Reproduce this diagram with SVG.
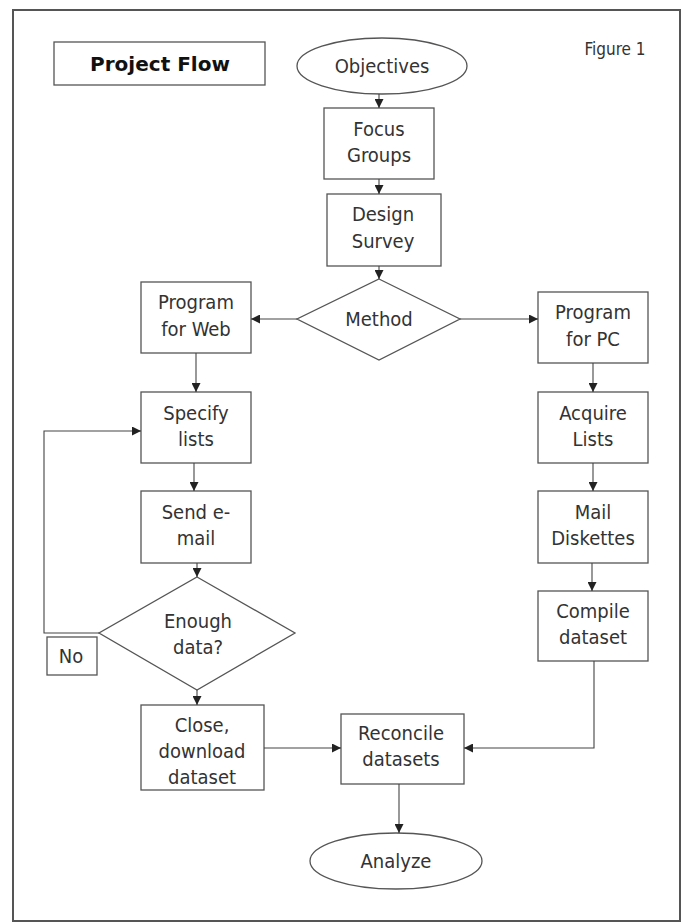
<svg xmlns="http://www.w3.org/2000/svg" width="688" height="924" viewBox="0 0 688 924">
<defs>
<marker id="ah" viewBox="0 0 10 10" refX="10" refY="5" markerWidth="9" markerHeight="9" markerUnits="userSpaceOnUse" orient="auto">
<path d="M0,0 L10,5 L0,10 z" fill="#222"/>
</marker>
<style>
.bx{fill:#fff;stroke:#555;stroke-width:1.3}
.t{font-family:"DejaVu Sans Condensed","DejaVu Sans",sans-serif;font-stretch:condensed;font-size:20px;fill:#333;text-anchor:middle}
.c{fill:none;stroke:#444;stroke-width:1.1;marker-end:url(#ah)}
</style>
</defs>
<rect width="688" height="924" fill="#fff"/>
<rect x="13" y="10" width="667" height="911" fill="none" stroke="#555" stroke-width="2"/>
<g id="title"><rect class="bx" x="54" y="42" width="211" height="43"/><text x="160" y="71" class="t" style="font-family:'DejaVu Sans',sans-serif;font-stretch:normal;font-weight:bold;fill:#111">Project Flow</text></g>
<g id="figure"><text x="615" y="55" class="t" style="font-size:17px">Figure 1</text></g>
<g id="objectives"><ellipse class="bx" cx="382" cy="66" rx="85" ry="28"/><text x="382" y="73" class="t">Objectives</text></g>
<g id="focus"><rect class="bx" x="324" y="108" width="110" height="71"/><text x="379" y="136" class="t">Focus</text><text x="379" y="162" class="t">Groups</text></g>
<g id="design"><rect class="bx" x="327" y="194" width="114" height="72"/><text x="383" y="221" class="t">Design</text><text x="383" y="248" class="t">Survey</text></g>
<g id="method"><polygon class="bx" points="379,279 460,319 379,360 297,319"/><text x="379" y="326" class="t">Method</text></g>
<g id="web"><rect class="bx" x="141" y="282" width="110" height="71"/><text x="196" y="309" class="t">Program</text><text x="196" y="336" class="t">for Web</text></g>
<g id="pc"><rect class="bx" x="538" y="292" width="110" height="71"/><text x="593" y="319" class="t">Program</text><text x="593" y="346" class="t">for PC</text></g>
<g id="specify"><rect class="bx" x="141" y="392" width="110" height="71"/><text x="196" y="420" class="t">Specify</text><text x="196" y="446" class="t">lists</text></g>
<g id="send"><rect class="bx" x="141" y="491" width="110" height="72"/><text x="196" y="519" class="t">Send e-</text><text x="196" y="545" class="t">mail</text></g>
<g id="enough"><polygon class="bx" points="197,577 295,633 197,690 99,633"/><text x="198" y="628" class="t">Enough</text><text x="198" y="654" class="t">data?</text></g>
<g id="no"><rect class="bx" x="47" y="637" width="50" height="38"/><text x="71" y="663" class="t">No</text></g>
<g id="acquire"><rect class="bx" x="538" y="392" width="110" height="71"/><text x="593" y="420" class="t">Acquire</text><text x="593" y="446" class="t">Lists</text></g>
<g id="mail"><rect class="bx" x="538" y="491" width="110" height="72"/><text x="593" y="519" class="t">Mail</text><text x="593" y="545" class="t">Diskettes</text></g>
<g id="compile"><rect class="bx" x="538" y="591" width="110" height="70"/><text x="593" y="618" class="t">Compile</text><text x="593" y="644" class="t">dataset</text></g>
<g id="close"><rect class="bx" x="141" y="705" width="123" height="85"/><text x="202" y="732" class="t">Close,</text><text x="202" y="758" class="t">download</text><text x="202" y="784" class="t">dataset</text></g>
<g id="reconcile"><rect class="bx" x="341" y="714" width="123" height="70"/><text x="401" y="740" class="t">Reconcile</text><text x="401" y="766" class="t">datasets</text></g>
<g id="analyze"><ellipse class="bx" cx="396" cy="861" rx="86" ry="28"/><text x="396" y="868" class="t">Analyze</text></g>
<g id="connectors">
<path class="c" d="M379,94 V108"/>
<path class="c" d="M379,179 V194"/>
<path class="c" d="M379,266 V279"/>
<path class="c" d="M297,319 H251"/>
<path class="c" d="M460,319 H538"/>
<path class="c" d="M196,353 V392"/>
<path class="c" d="M194,463 V491"/>
<path class="c" d="M197,563 V577"/>
<path class="c" d="M99,633 H44 V431 H141"/>
<path class="c" d="M593,363 V392"/>
<path class="c" d="M593,463 V491"/>
<path class="c" d="M592,563 V591"/>
<path class="c" d="M197,690 V705"/>
<path class="c" d="M264,748 H341"/>
<path class="c" d="M594,661 V748 H464"/>
<path class="c" d="M399,784 V833"/>
</g>
</svg>
